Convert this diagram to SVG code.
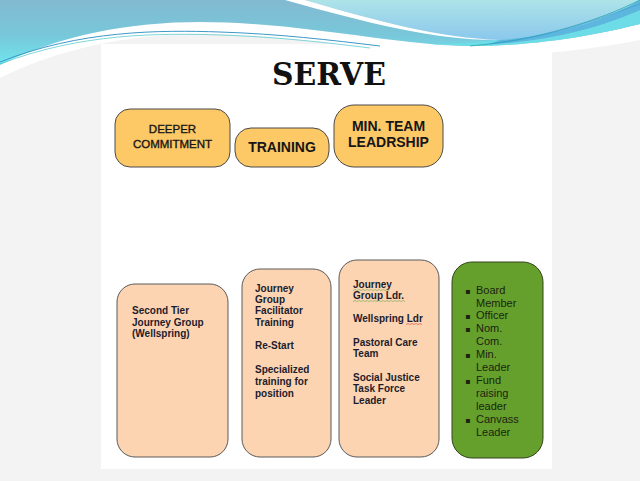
<svg xmlns="http://www.w3.org/2000/svg" width="640" height="481" viewBox="0 0 640 481">
<defs>
<linearGradient id="gBlue" x1="0" y1="0" x2="0" y2="65" gradientUnits="userSpaceOnUse">
<stop offset="0" stop-color="#82b9d1"/>
<stop offset="0.55" stop-color="#78c8da"/>
<stop offset="1" stop-color="#6ee6ee"/>
</linearGradient>
<linearGradient id="gLight" x1="0" y1="0" x2="0" y2="42" gradientUnits="userSpaceOnUse">
<stop offset="0" stop-color="#aee3e9"/>
<stop offset="1" stop-color="#88c6ec"/>
</linearGradient>
<style>
.title{font-family:"DejaVu Serif","Liberation Serif",serif;font-weight:bold;font-size:31px;fill:#111;text-anchor:middle}
.top{fill:#fdc866;stroke:#4a4a4a;stroke-width:1}
.bot{fill:#fcd4b2;stroke:#5a5a5a;stroke-width:1}
.grn{fill:#66a02c;stroke:#34421f;stroke-width:1}
.th{font-family:"Liberation Sans",Arial,sans-serif;fill:#161616;text-anchor:middle}
.thn{stroke:#161616;stroke-width:0.35}
.tb{font-family:"Liberation Sans",Arial,sans-serif;font-weight:bold;font-size:10px;fill:#1c1c2c}
.tg{font-family:"Liberation Sans",Arial,sans-serif;font-size:11px;fill:#1a2410}
.bul{font-family:"DejaVu Sans",sans-serif;font-size:8px;fill:#1a2410}
</style>
</defs>
<rect x="0" y="0" width="640" height="481" fill="#f3f3f3"/>
<rect x="101" y="44" width="451" height="425" fill="#ffffff"/>
<g id="swoosh">
<path d="M0,65 C60,35 130,22 200,22 C300,22 400,46 470,46 C540,46 600,34 640,24 L640,40 C600,48 540,56 470,56 C400,56 300,34 200,34 C130,34 60,48 0,78 Z" fill="#ffffff"/>
<path d="M0,0 H640 V24 C600,34 540,46 470,46 C400,46 300,22 200,22 C130,22 60,35 0,65 Z" fill="url(#gBlue)"/>
<path d="M430,44 C500,44 580,28 640,8 V24 C600,34 540,46 470,46 Z" fill="#6edce6"/>
<path d="M305,0 H640 V4 C600,22 560,36 500,40 C440,38 380,22 305,0 Z" fill="url(#gLight)"/>
<path d="M500,40 C560,36 610,18 640,0 V10 C600,28 545,42 490,44 Z" fill="#5cb6de"/>
<path d="M285,0 H305 C380,22 440,38 500,40 C440,41 370,24 285,0 Z" fill="#ffffff"/>
<path d="M0,62 C80,30 160,30 220,32 C280,34 330,40 380,46" fill="none" stroke="#3d98c8" stroke-width="1"/>
<path d="M0,64 C80,33 160,33 220,35 C280,37 330,43 370,48" fill="none" stroke="#46c4c8" stroke-width="0.7"/>
<path d="M470,46 C540,40 600,20 640,0" fill="none" stroke="#27a6ae" stroke-width="0.8"/>
<path d="M490,44 C560,36 610,14 640,4" fill="none" stroke="#3f9fd2" stroke-width="0.7"/>
</g>
<text class="title" x="329" y="85" textLength="114" lengthAdjust="spacingAndGlyphs">SERVE</text>
<g id="connectors"></g>
<g id="deeper">
<rect class="top" x="115" y="109" width="115" height="58" rx="15"/>
<text class="th thn" font-size="11.5" x="172.5" y="133">DEEPER</text>
<text class="th thn" font-size="11.5" x="172.5" y="148">COMMITMENT</text>
</g>
<g id="training">
<rect class="top" x="235" y="128" width="94" height="39" rx="16"/>
<text class="th" font-size="14" font-weight="bold" x="282" y="152">TRAINING</text>
</g>
<g id="minteam">
<rect class="top" x="334" y="105" width="109" height="62" rx="20"/>
<text class="th" font-size="14" font-weight="bold" x="388.5" y="131">MIN. TEAM</text>
<text class="th" font-size="14" font-weight="bold" x="388.5" y="147">LEADRSHIP</text>
</g>
<g id="box1">
<rect class="bot" x="117" y="284" width="111" height="173" rx="18"/>
<text class="tb" x="132" y="314">Second Tier</text>
<text class="tb" x="132" y="326">Journey Group</text>
<text class="tb" x="132" y="337">(Wellspring)</text>
</g>
<g id="box2">
<rect class="bot" x="242" y="269" width="89" height="188" rx="18"/>
<text class="tb" x="255" y="292">Journey</text>
<text class="tb" x="255" y="303">Group</text>
<text class="tb" x="255" y="314">Facilitator</text>
<text class="tb" x="255" y="326">Training</text>
<text class="tb" x="255" y="349">Re-Start</text>
<text class="tb" x="255" y="373">Specialized</text>
<text class="tb" x="255" y="385">training for</text>
<text class="tb" x="255" y="397">position</text>
</g>
<g id="box3">
<rect class="bot" x="339" y="260" width="100" height="197" rx="18"/>
<text class="tb" x="353" y="288">Journey</text>
<text class="tb" x="353" y="299">Group Ldr.</text>
<text class="tb" x="353" y="322">Wellspring Ldr</text>
<text class="tb" x="353" y="346">Pastoral Care</text>
<text class="tb" x="353" y="357">Team</text>
<text class="tb" x="353" y="381">Social Justice</text>
<text class="tb" x="353" y="392">Task Force</text>
<text class="tb" x="353" y="404">Leader</text>
<path d="M353,290.5 l2,-1 l2,1 l2,-1 l2,1 l2,-1 l2,1 l2,-1 l2,1 l2,-1 l2,1 l2,-1 l2,1 l2,-1 l2,1 l2,-1 l2,1 l2,-1 l2,1" fill="none" stroke="#6aa84f" stroke-width="0.6"/>
<path d="M353,301.5 l2,-1 l2,1 l2,-1 l2,1 l2,-1 l2,1 l2,-1 l2,1 l2,-1 l2,1 l2,-1 l2,1 l2,-1 l2,1 l2,-1 l2,1 l2,-1 l2,1 l2,-1 l2,1 l2,-1 l2,1 l2,-1 l2,1 l2,-1 l2,1" fill="none" stroke="#6aa84f" stroke-width="0.6"/>
<path d="M406,324.5 l2,-1 l2,1 l2,-1 l2,1 l2,-1 l2,1 l2,-1 l2,1" fill="none" stroke="#d04040" stroke-width="0.6"/>
</g>
<g id="box4">
<rect class="grn" x="452" y="262" width="91" height="196" rx="20"/>
<text class="bul" x="465" y="294">▪</text>
<text class="tg" x="476" y="294">Board</text>
<text class="tg" x="476" y="307">Member</text>
<text class="bul" x="465" y="319">▪</text>
<text class="tg" x="476" y="319">Officer</text>
<text class="bul" x="465" y="332">▪</text>
<text class="tg" x="476" y="332">Nom.</text>
<text class="tg" x="476" y="345">Com.</text>
<text class="bul" x="465" y="358">▪</text>
<text class="tg" x="476" y="358">Min.</text>
<text class="tg" x="476" y="371">Leader</text>
<text class="bul" x="465" y="384">▪</text>
<text class="tg" x="476" y="384">Fund</text>
<text class="tg" x="476" y="397">raising</text>
<text class="tg" x="476" y="410">leader</text>
<text class="bul" x="465" y="423">▪</text>
<text class="tg" x="476" y="423">Canvass</text>
<text class="tg" x="476" y="436">Leader</text>
</g>
</svg>
